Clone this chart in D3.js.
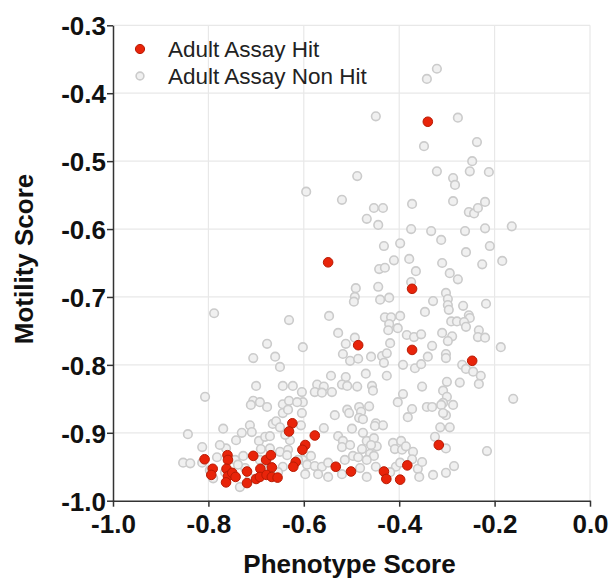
<!DOCTYPE html>
<html lang="en">
<head>
  <meta charset="UTF-8">
  <title>Motility vs Phenotype</title>
  <style>
    body { margin: 0; background: #ffffff; }
    svg { font-family: "Liberation Sans", Arial, Helvetica, sans-serif; }
    .grid line { stroke: #e8e8e8; stroke-width: 1.2; }
    .axis path, .axis line { stroke: #333333; stroke-width: 1.5; }
    .axis text { font-size: 26px; font-weight: bold; fill: #111111; }
    .title { font-size: 26px; font-weight: bold; fill: #111111; }
    .legend text { font-size: 22.5px; fill: #222222; }
    .nonhit { fill: #f0f0f0; stroke: #cbcbcb; stroke-width: 1.6; }
    .hit { fill: #e8240a; stroke: #b81b04; stroke-width: 1; }
  </style>
  <script type="text/javascript" src="https://d3js.org/d3.v7.min.js"></script>
</head>
<body>
<script type="text/javascript">

  // [phenotype score, motility score]
  var hitPoints = [
    [-0.340, -0.442], [-0.549, -0.649], [-0.373, -0.688], [-0.486, -0.771],
    [-0.373, -0.778], [-0.247, -0.794],
    [-0.808, -0.939], [-0.791, -0.953], [-0.794, -0.962], [-0.760, -0.933],
    [-0.759, -0.940], [-0.762, -0.953], [-0.759, -0.964], [-0.763, -0.973],
    [-0.750, -0.959], [-0.743, -0.965], [-0.719, -0.957], [-0.719, -0.974],
    [-0.706, -0.934], [-0.700, -0.968], [-0.691, -0.953], [-0.692, -0.965],
    [-0.679, -0.940], [-0.669, -0.933], [-0.667, -0.951], [-0.678, -0.962],
    [-0.667, -0.965], [-0.655, -0.966], [-0.624, -0.886], [-0.631, -0.898],
    [-0.617, -0.943], [-0.622, -0.950],
    [-0.577, -0.904], [-0.597, -0.918], [-0.603, -0.925], [-0.533, -0.950],
    [-0.501, -0.957], [-0.432, -0.957], [-0.427, -0.968], [-0.398, -0.969],
    [-0.383, -0.948], [-0.317, -0.918]
  ];

  var nonHitPoints = [
    [-0.321, -0.364], [-0.342, -0.379], [-0.449, -0.434], [-0.277, -0.436],
    [-0.348, -0.478], [-0.237, -0.472], [-0.247, -0.500], [-0.321, -0.515],
    [-0.252, -0.515], [-0.212, -0.516], [-0.488, -0.522], [-0.287, -0.525],
    [-0.283, -0.535], [-0.595, -0.545], [-0.520, -0.557], [-0.287, -0.559],
    [-0.220, -0.560], [-0.453, -0.569], [-0.434, -0.569], [-0.373, -0.563],
    [-0.254, -0.575], [-0.243, -0.577], [-0.235, -0.569], [-0.468, -0.585],
    [-0.444, -0.594], [-0.375, -0.600], [-0.333, -0.603], [-0.262, -0.603],
    [-0.220, -0.599], [-0.164, -0.596], [-0.432, -0.625], [-0.398, -0.621],
    [-0.312, -0.616], [-0.210, -0.625], [-0.260, -0.634], [-0.411, -0.646],
    [-0.379, -0.644], [-0.442, -0.659], [-0.430, -0.657], [-0.365, -0.662],
    [-0.310, -0.650], [-0.226, -0.652], [-0.184, -0.647], [-0.294, -0.665],
    [-0.277, -0.674], [-0.491, -0.687], [-0.444, -0.685], [-0.375, -0.678],
    [-0.493, -0.700], [-0.495, -0.707], [-0.440, -0.704], [-0.421, -0.701],
    [-0.302, -0.694], [-0.329, -0.706], [-0.298, -0.703], [-0.298, -0.712],
    [-0.296, -0.719], [-0.266, -0.713], [-0.218, -0.710], [-0.547, -0.728],
    [-0.430, -0.730], [-0.417, -0.730], [-0.398, -0.728], [-0.346, -0.722],
    [-0.291, -0.736], [-0.279, -0.736], [-0.254, -0.727], [-0.252, -0.731],
    [-0.264, -0.737], [-0.260, -0.744], [-0.421, -0.740], [-0.403, -0.746],
    [-0.423, -0.749], [-0.528, -0.753], [-0.493, -0.760], [-0.512, -0.769],
    [-0.384, -0.756], [-0.369, -0.759], [-0.354, -0.755], [-0.419, -0.768],
    [-0.310, -0.753], [-0.289, -0.758], [-0.233, -0.749], [-0.235, -0.759],
    [-0.220, -0.760], [-0.298, -0.765], [-0.331, -0.772], [-0.187, -0.774],
    [-0.602, -0.774], [-0.788, -0.724], [-0.631, -0.734], [-0.677, -0.769],
    [-0.518, -0.784], [-0.503, -0.794], [-0.486, -0.791], [-0.459, -0.788],
    [-0.436, -0.787], [-0.426, -0.783], [-0.432, -0.797], [-0.392, -0.800],
    [-0.367, -0.805], [-0.354, -0.799], [-0.340, -0.788], [-0.302, -0.784],
    [-0.302, -0.790], [-0.268, -0.800], [-0.260, -0.806], [-0.245, -0.810],
    [-0.229, -0.816], [-0.233, -0.828], [-0.273, -0.826], [-0.300, -0.825],
    [-0.543, -0.816], [-0.512, -0.818], [-0.470, -0.813], [-0.426, -0.816],
    [-0.572, -0.829], [-0.558, -0.832], [-0.541, -0.840], [-0.577, -0.840],
    [-0.562, -0.841], [-0.520, -0.829], [-0.509, -0.831], [-0.488, -0.832],
    [-0.457, -0.831], [-0.455, -0.838], [-0.604, -0.840], [-0.392, -0.843],
    [-0.352, -0.832], [-0.308, -0.838], [-0.300, -0.847], [-0.706, -0.790],
    [-0.660, -0.788], [-0.650, -0.803], [-0.700, -0.831], [-0.644, -0.831],
    [-0.623, -0.831], [-0.807, -0.847], [-0.403, -0.855], [-0.342, -0.862],
    [-0.373, -0.865], [-0.382, -0.877], [-0.509, -0.866], [-0.505, -0.871],
    [-0.535, -0.874], [-0.484, -0.862], [-0.480, -0.869], [-0.463, -0.861],
    [-0.484, -0.878], [-0.476, -0.880], [-0.449, -0.886], [-0.434, -0.889],
    [-0.451, -0.890], [-0.558, -0.893], [-0.499, -0.894], [-0.476, -0.900],
    [-0.602, -0.855], [-0.604, -0.871], [-0.606, -0.889], [-0.308, -0.856],
    [-0.312, -0.859], [-0.287, -0.859], [-0.302, -0.874], [-0.308, -0.871],
    [-0.331, -0.862], [-0.161, -0.850], [-0.314, -0.892], [-0.294, -0.892],
    [-0.706, -0.853], [-0.692, -0.855], [-0.711, -0.859], [-0.677, -0.862],
    [-0.644, -0.858], [-0.631, -0.853], [-0.614, -0.855], [-0.644, -0.871],
    [-0.633, -0.866], [-0.843, -0.902], [-0.769, -0.894], [-0.730, -0.900],
    [-0.713, -0.889], [-0.709, -0.899], [-0.665, -0.887], [-0.658, -0.883],
    [-0.650, -0.892], [-0.528, -0.905], [-0.468, -0.912], [-0.453, -0.908],
    [-0.447, -0.920], [-0.459, -0.918], [-0.518, -0.912], [-0.520, -0.921],
    [-0.503, -0.918], [-0.478, -0.924], [-0.497, -0.934], [-0.486, -0.936],
    [-0.461, -0.931], [-0.453, -0.934], [-0.468, -0.940], [-0.514, -0.940],
    [-0.585, -0.934], [-0.602, -0.940], [-0.593, -0.947], [-0.577, -0.949],
    [-0.562, -0.950], [-0.549, -0.944], [-0.597, -0.961], [-0.570, -0.961],
    [-0.549, -0.965], [-0.520, -0.961], [-0.482, -0.952], [-0.468, -0.965],
    [-0.449, -0.950], [-0.413, -0.915], [-0.396, -0.912], [-0.409, -0.924],
    [-0.394, -0.925], [-0.386, -0.920], [-0.371, -0.928], [-0.407, -0.950],
    [-0.419, -0.958], [-0.361, -0.953], [-0.358, -0.965], [-0.352, -0.943],
    [-0.373, -0.939], [-0.398, -0.944], [-0.325, -0.906], [-0.302, -0.923],
    [-0.216, -0.927], [-0.285, -0.949], [-0.302, -0.959], [-0.329, -0.962],
    [-0.694, -0.912], [-0.681, -0.906], [-0.671, -0.905], [-0.742, -0.911],
    [-0.813, -0.921], [-0.763, -0.923], [-0.853, -0.944], [-0.838, -0.945],
    [-0.782, -0.936], [-0.744, -0.940], [-0.727, -0.934], [-0.690, -0.924],
    [-0.671, -0.923], [-0.650, -0.928], [-0.633, -0.925], [-0.629, -0.911],
    [-0.639, -0.903], [-0.723, -0.952], [-0.738, -0.947], [-0.790, -0.967],
    [-0.734, -0.980], [-0.644, -0.950], [-0.635, -0.933], [-0.692, -0.940],
    [-0.813, -0.944], [-0.612, -0.940], [-0.797, -0.955], [-0.765, -0.958],
    [-0.713, -0.967], [-0.681, -0.955], [-0.654, -0.958], [-0.776, -0.918]
  ];

  var xTicks = [-1.0, -0.8, -0.6, -0.4, -0.2, 0.0];
  var yTicks = [-0.3, -0.4, -0.5, -0.6, -0.7, -0.8, -0.9, -1.0];
  var legendLabels = ["Adult Assay Hit", "Adult Assay Non Hit"];

  var width = 610, height = 579;
  var plotLeft = 113, plotRight = 590, plotTop = 25.3, plotBottom = 500.7;

  var svg = d3.select("body")
    .append("svg")
    .attr("width", width)
    .attr("height", height);

  var x = d3.scaleLinear().domain([-1.0, 0.0]).range([plotLeft, plotRight]);
  var y = d3.scaleLinear().domain([-1.0, -0.3]).range([plotBottom, plotTop]);

  // grid
  var grid = svg.append("g").attr("class", "grid");
  grid.selectAll("line.gx")
    .data(xTicks.slice(1))
    .enter().append("line")
    .attr("class", "gx")
    .attr("x1", function(d) { return x(d); })
    .attr("x2", function(d) { return x(d); })
    .attr("y1", plotTop)
    .attr("y2", plotBottom);
  grid.selectAll("line.gy")
    .data(yTicks.slice(0, -1))
    .enter().append("line")
    .attr("class", "gy")
    .attr("x1", plotLeft)
    .attr("x2", plotRight)
    .attr("y1", function(d) { return y(d); })
    .attr("y2", function(d) { return y(d); });

  // plain hyphen for the minus sign, like the original
  var fmt = d3.formatLocale({decimal: ".", thousands: ",", grouping: [3], currency: ["", ""], minus: "-"}).format(".1f");

  svg.append("g")
    .attr("class", "axis")
    .attr("transform", "translate(0," + plotBottom + ")")
    .call(d3.axisBottom(x).tickValues(xTicks).tickFormat(fmt).tickSize(6).tickSizeOuter(0).tickPadding(4))
    .call(function(g) { g.selectAll("text").attr("dy", "0.85em"); });

  svg.append("g")
    .attr("class", "axis")
    .attr("transform", "translate(" + plotLeft + ",0)")
    .call(d3.axisLeft(y).tickValues(yTicks).tickFormat(fmt).tickSize(6).tickSizeOuter(0).tickPadding(1))
    .call(function(g) { g.selectAll("text").attr("dy", "0.36em"); });

  // points
  svg.append("g").selectAll("circle")
    .data(nonHitPoints)
    .enter().append("circle")
    .attr("class", "nonhit")
    .attr("r", 4.3)
    .attr("cx", function(d) { return x(d[0]); })
    .attr("cy", function(d) { return y(d[1]); });

  svg.append("g").selectAll("circle")
    .data(hitPoints)
    .enter().append("circle")
    .attr("class", "hit")
    .attr("r", 4.8)
    .attr("cx", function(d) { return x(d[0]); })
    .attr("cy", function(d) { return y(d[1]); });

  // legend
  var legend = svg.append("g").attr("class", "legend");
  var items = legend.selectAll("g")
    .data(legendLabels)
    .enter().append("g")
    .attr("transform", function(d, i) { return "translate(140," + (49 + i * 27) + ")"; });
  items.append("circle")
    .attr("r", function(d, i) { return i === 0 ? 4.6 : 3.9; })
    .attr("class", function(d, i) { return i === 0 ? "hit" : "nonhit"; });
  items.append("text")
    .attr("x", 28)
    .attr("y", 8)
    .text(function(d) { return d; });

  // titles
  svg.append("text")
    .attr("class", "title")
    .attr("x", (plotLeft + plotRight) / 2 - 2)
    .attr("y", 573)
    .attr("text-anchor", "middle")
    .text("Phenotype Score");

  svg.append("text")
    .attr("class", "title")
    .attr("transform", "translate(33,259) rotate(-90)")
    .attr("text-anchor", "middle")
    .text("Motility Score");

</script>
</body>
</html>
